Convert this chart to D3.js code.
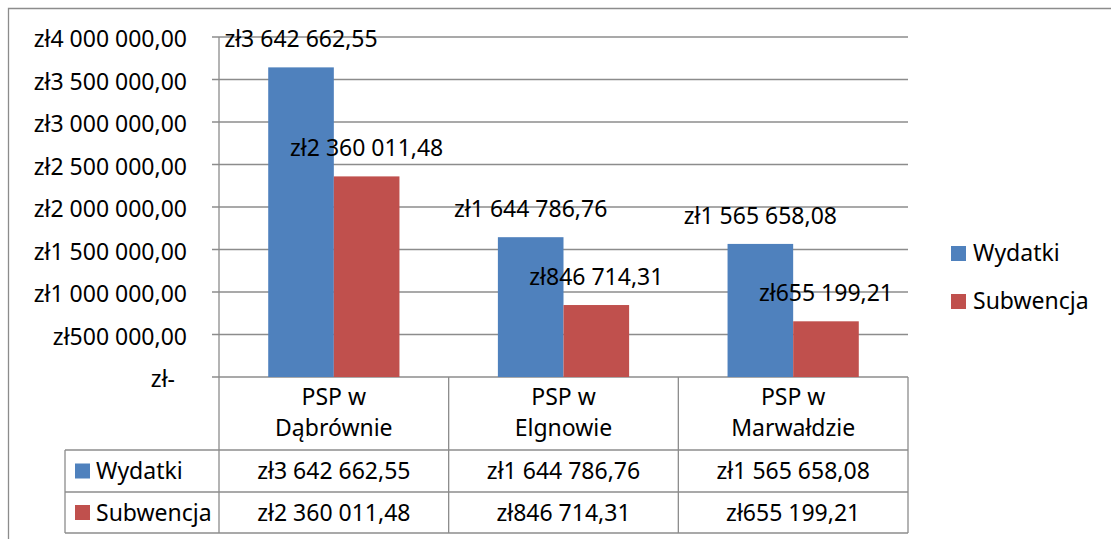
<!DOCTYPE html>
<html>
<head>
<meta charset="utf-8">
<style>
  body { margin: 0; background: #fff; }
  text { font-family: "Noto Sans", sans-serif; font-size: 23px; fill: #000; }
</style>
</head>
<body>
<svg width="1111" height="539"></svg>
<script src="https://d3js.org/d3.v7.min.js"></script>
<script>
// data
const categories = ["PSP w Dąbrównie", "PSP w Elgnowie", "PSP w Marwałdzie"];
const catLines = [["PSP w", "Dąbrównie"], ["PSP w", "Elgnowie"], ["PSP w", "Marwałdzie"]];
const series = ["Wydatki", "Subwencja"];
const wydatki = [3642662.55, 1644786.76, 1565658.08];
const subwencja = [2360011.48, 846714.31, 655199.21];
const yTicks = [0, 500000, 1000000, 1500000, 2000000, 2500000, 3000000, 3500000, 4000000];
const colors = ["#4F81BD", "#C0504D"];

const values = [wydatki, subwencja];
const gridColor = "#8c8c8c";

// polish accounting-ish format: zł3 642 662,55
function fmt(v) {
  if (v === 0) return "zł-";
  const parts = v.toFixed(2).split(".");
  const intPart = parts[0].replace(/\B(?=(\d{3})+(?!\d))/g, " ");
  return "zł" + intPart + "," + parts[1];
}

const svg = d3.select("svg");

const plotLeft = 219, plotRight = 908, plotTop = 37, plotBottom = 377;
const rowTops = [377, 450, 492, 533];
const tableLeft = 65;

const y = d3.scaleLinear().domain([0, 4000000]).range([plotBottom, plotTop]);
const x0 = d3.scaleBand().domain(categories).range([plotLeft, plotRight]);
const x1 = d3.scaleBand().domain(series).range([0, x0.bandwidth()]).paddingOuter(0.75);

// outer frame
svg.append("path")
  .attr("d", "M8.5,539 L8.5,8.5 L1111,8.5")
  .attr("fill", "none").attr("stroke", gridColor).attr("stroke-width", 1.3);

// gridlines + ticks
const g = svg.append("g");
g.selectAll("line.grid").data(yTicks).enter().append("line")
  .attr("x1", plotLeft - 7).attr("x2", plotRight)
  .attr("y1", d => y(d)).attr("y2", d => y(d))
  .attr("stroke", gridColor).attr("stroke-width", 1.3);

// y labels
g.selectAll("text.ylab").data(yTicks).enter().append("text")
  .attr("x", d => d === 0 ? 175 : 187)
  .attr("y", d => y(d) + 10)
  .attr("text-anchor", "end")
  .text(d => fmt(d));

// bars
const bars = svg.append("g");
categories.forEach((c, i) => {
  series.forEach((s, j) => {
    bars.append("rect")
      .attr("x", x0(c) + x1(s))
      .attr("y", y(values[j][i]))
      .attr("width", x1.bandwidth())
      .attr("height", plotBottom - y(values[j][i]))
      .attr("fill", colors[j]);
  });
});

// y axis line
svg.append("line")
  .attr("x1", plotLeft).attr("x2", plotLeft).attr("y1", plotTop).attr("y2", rowTops[3])
  .attr("stroke", gridColor).attr("stroke-width", 1.3);

// data labels
const labels = svg.append("g");
categories.forEach((c, i) => {
  series.forEach((s, j) => {
    labels.append("text")
      .attr("x", x0(c) + x1(s) + x1.bandwidth() / 2)
      .attr("y", y(values[j][i]) - 20)
      .attr("text-anchor", "middle")
      .text(fmt(values[j][i]));
  });
});

// data table
const table = svg.append("g");
const line = (xa, ya, xb, yb) => table.append("line")
  .attr("x1", xa).attr("y1", ya).attr("x2", xb).attr("y2", yb)
  .attr("stroke", gridColor).attr("stroke-width", 1.3);

line(tableLeft, rowTops[1], plotRight, rowTops[1]);
line(tableLeft, rowTops[2], plotRight, rowTops[2]);
line(tableLeft, rowTops[3], plotRight, rowTops[3]);
line(tableLeft, rowTops[1], tableLeft, rowTops[3]);
categories.forEach(c => line(x0(c) + x0.bandwidth(), rowTops[0], x0(c) + x0.bandwidth(), rowTops[3]));

// header
categories.forEach((c, i) => {
  const t = table.append("text")
    .attr("x", x0(c) + x0.bandwidth() / 2)
    .attr("text-anchor", "middle");
  catLines[i].forEach((ln, k) => {
    t.append("tspan").attr("x", x0(c) + x0.bandwidth() / 2)
      .attr("y", 405 + k * 31).text(ln);
  });
});

// rows
series.forEach((s, j) => {
  const cy = (rowTops[j + 1] + rowTops[j + 2]) / 2;
  table.append("rect").attr("x", 75).attr("y", cy - 7.5)
    .attr("width", 15).attr("height", 15).attr("fill", colors[j]);
  table.append("text").attr("x", 96).attr("y", cy + 8).text(s);
  categories.forEach((c, i) => {
    table.append("text")
      .attr("x", x0(c) + x0.bandwidth() / 2)
      .attr("y", cy + 8)
      .attr("text-anchor", "middle")
      .text(fmt(values[j][i]));
  });
});

// legend
const legend = svg.append("g");
series.forEach((s, j) => {
  const ly = 246 + j * 48;
  legend.append("rect").attr("x", 951).attr("y", ly)
    .attr("width", 15).attr("height", 15).attr("fill", colors[j]);
  legend.append("text").attr("x", 973).attr("y", ly + 15).text(s);
});
</script>
</body>
</html>
